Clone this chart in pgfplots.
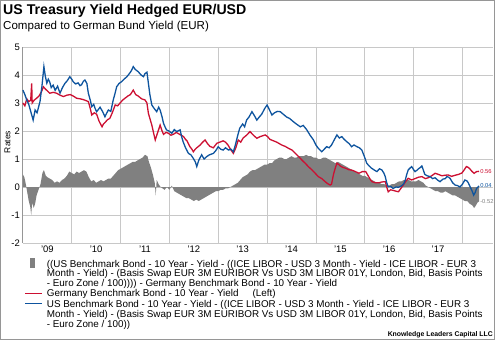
\documentclass[border=0pt]{standalone}
\usepackage{pgfplots}
\usepackage{pgfplotstable}
\pgfplotsset{compat=1.18}
\usepackage{fontspec}
\setmainfont{Liberation Sans}
\definecolor{cred}{RGB}{204,16,50}
\definecolor{cblue}{RGB}{14,84,158}
\definecolor{cgray}{RGB}{128,128,128}
\definecolor{gridgray}{RGB}{200,200,200}
\definecolor{framegray}{RGB}{150,150,150}

\pgfplotstableread{
x y
2009.00 3.46
2009.04 3.30
2009.08 3.10
2009.12 2.95
2009.16 2.70
2009.21 2.39
2009.25 2.75
2009.29 2.65
2009.35 3.05
2009.39 3.60
2009.43 4.30
2009.46 3.95
2009.49 3.71
2009.52 3.85
2009.55 3.75
2009.58 3.55
2009.62 3.64
2009.66 3.45
2009.71 3.60
2009.76 3.35
2009.81 3.55
2009.86 3.70
2009.91 3.80
2009.96 3.94
2010.00 3.85
2010.03 3.76
2010.08 3.68
2010.13 3.72
2010.17 3.62
2010.20 3.65
2010.24 3.78
2010.27 3.82
2010.31 3.70
2010.34 3.35
2010.38 3.10
2010.41 2.87
2010.45 2.95
2010.48 2.80
2010.51 2.69
2010.55 2.78
2010.58 2.85
2010.63 2.70
2010.68 2.51
2010.71 2.62
2010.75 2.75
2010.80 2.70
2010.85 3.11
2010.88 3.30
2010.92 3.58
2010.97 3.70
2011.02 3.76
2011.07 3.85
2011.13 3.94
2011.18 4.05
2011.22 4.15
2011.26 4.30
2011.30 4.20
2011.36 4.12
2011.42 4.00
2011.47 3.94
2011.50 4.05
2011.54 4.10
2011.57 3.70
2011.60 3.30
2011.64 2.93
2011.69 2.80
2011.74 2.69
2011.78 2.85
2011.81 2.75
2011.85 2.50
2011.88 2.27
2011.91 2.15
2011.94 2.04
2011.99 2.00
2012.05 1.92
2012.10 2.05
2012.15 1.98
2012.22 2.04
2012.25 1.80
2012.28 1.62
2012.33 1.40
2012.39 1.20
2012.44 1.15
2012.49 1.02
2012.53 0.90
2012.56 0.73
2012.60 0.95
2012.66 1.15
2012.71 1.00
2012.76 1.08
2012.82 1.15
2012.90 1.20
2012.95 1.30
2013.00 1.44
2013.05 1.35
2013.10 1.32
2013.15 1.40
2013.21 1.32
2013.26 1.35
2013.31 1.26
2013.35 1.50
2013.40 1.85
2013.44 2.10
2013.50 2.25
2013.54 2.15
2013.58 2.39
2013.63 2.50
2013.69 2.69
2013.74 2.55
2013.79 2.39
2013.84 2.50
2013.89 2.60
2013.95 2.80
2014.00 2.93
2014.05 2.75
2014.10 2.57
2014.15 2.65
2014.21 2.70
2014.27 2.69
2014.33 2.60
2014.40 2.50
2014.46 2.45
2014.54 2.33
2014.60 2.25
2014.68 2.15
2014.74 2.20
2014.81 2.05
2014.88 1.85
2014.95 1.68
2015.00 1.50
2015.05 1.38
2015.12 1.26
2015.17 1.35
2015.22 1.44
2015.27 1.40
2015.32 1.50
2015.38 1.70
2015.43 1.86
2015.48 1.75
2015.53 1.80
2015.58 1.70
2015.63 1.62
2015.68 1.55
2015.73 1.44
2015.78 1.50
2015.84 1.44
2015.89 1.40
2015.94 1.32
2015.99 1.10
2016.04 0.85
2016.09 0.75
2016.14 0.67
2016.20 0.60
2016.25 0.55
2016.30 0.65
2016.35 0.61
2016.39 0.50
2016.42 0.37
2016.45 0.15
2016.48 0.01
2016.53 0.02
2016.58 -0.05
2016.64 0.00
2016.69 -0.01
2016.76 0.05
2016.80 0.12
2016.83 0.25
2016.86 0.45
2016.89 0.61
2016.93 0.68
2016.96 0.73
2017.00 0.62
2017.03 0.55
2017.07 0.60
2017.10 0.65
2017.14 0.70
2017.17 0.75
2017.20 0.60
2017.23 0.45
2017.28 0.40
2017.34 0.37
2017.39 0.30
2017.44 0.33
2017.49 0.25
2017.54 0.19
2017.60 0.28
2017.65 0.30
2017.68 0.37
2017.72 0.35
2017.75 0.30
2017.80 0.15
2017.85 0.07
2017.90 0.05
2017.95 0.00
2018.00 0.10
2018.05 0.25
2018.09 0.22
2018.12 0.15
2018.16 0.00
2018.20 -0.15
2018.23 -0.29
2018.26 -0.20
2018.29 -0.05
2018.32 0.00
2018.34 0.04
}\bluedata

\pgfplotstableread{
x y
2009.00 3.00
2009.04 2.90
2009.08 3.15
2009.12 3.05
2009.16 3.10
2009.18 3.70
2009.19 3.00
2009.23 3.10
2009.28 3.17
2009.33 3.25
2009.38 3.40
2009.42 3.58
2009.46 3.50
2009.49 3.45
2009.55 3.35
2009.62 3.38
2009.69 3.35
2009.76 3.28
2009.83 3.23
2009.90 3.28
2009.97 3.30
2010.03 3.25
2010.10 3.17
2010.17 3.15
2010.24 3.12
2010.30 3.08
2010.34 3.05
2010.38 2.80
2010.41 2.57
2010.46 2.65
2010.51 2.60
2010.56 2.35
2010.62 2.15
2010.65 2.25
2010.68 2.30
2010.73 2.40
2010.78 2.45
2010.83 2.65
2010.89 2.93
2010.94 2.90
2010.99 3.00
2011.04 3.10
2011.09 3.17
2011.15 3.25
2011.20 3.30
2011.26 3.46
2011.31 3.30
2011.36 3.25
2011.43 3.15
2011.50 3.11
2011.54 3.00
2011.57 2.63
2011.60 2.45
2011.64 2.21
2011.68 1.90
2011.71 1.68
2011.76 1.95
2011.81 2.21
2011.85 2.00
2011.88 1.88
2011.93 1.95
2011.98 1.92
2012.03 1.85
2012.08 1.88
2012.14 1.95
2012.19 1.90
2012.24 1.85
2012.29 1.80
2012.33 1.70
2012.36 1.65
2012.42 1.44
2012.46 1.35
2012.49 1.26
2012.53 1.35
2012.56 1.40
2012.63 1.50
2012.68 1.60
2012.73 1.68
2012.78 1.55
2012.83 1.45
2012.90 1.40
2012.97 1.56
2013.03 1.60
2013.10 1.65
2013.15 1.60
2013.20 1.50
2013.25 1.35
2013.31 1.20
2013.36 1.40
2013.41 1.68
2013.46 1.60
2013.51 1.75
2013.58 1.85
2013.65 1.98
2013.72 1.85
2013.79 1.74
2013.86 1.80
2013.96 1.86
2014.01 1.80
2014.06 1.70
2014.13 1.65
2014.20 1.60
2014.24 1.56
2014.30 1.50
2014.37 1.45
2014.44 1.38
2014.51 1.32
2014.58 1.20
2014.65 1.08
2014.72 0.95
2014.78 0.85
2014.85 0.72
2014.92 0.61
2014.98 0.50
2015.05 0.37
2015.12 0.30
2015.19 0.19
2015.24 0.12
2015.29 0.07
2015.32 0.10
2015.36 0.45
2015.40 0.70
2015.43 0.85
2015.47 0.80
2015.50 0.75
2015.55 0.70
2015.61 0.67
2015.67 0.62
2015.74 0.60
2015.81 0.55
2015.88 0.49
2015.95 0.55
2016.02 0.55
2016.07 0.40
2016.12 0.25
2016.15 0.19
2016.22 0.15
2016.29 0.15
2016.35 0.18
2016.42 0.19
2016.45 0.00
2016.48 -0.17
2016.53 -0.10
2016.58 -0.12
2016.64 -0.15
2016.69 -0.17
2016.74 -0.05
2016.79 0.07
2016.84 0.20
2016.89 0.31
2016.96 0.25
2017.03 0.30
2017.10 0.35
2017.17 0.37
2017.24 0.30
2017.30 0.33
2017.37 0.40
2017.44 0.49
2017.51 0.45
2017.58 0.40
2017.64 0.42
2017.71 0.43
2017.78 0.38
2017.85 0.42
2017.92 0.45
2017.99 0.50
2018.04 0.62
2018.08 0.73
2018.12 0.70
2018.15 0.65
2018.20 0.55
2018.24 0.49
2018.29 0.55
2018.34 0.56
}\reddata

\pgfplotstableread{
x y
2009.00 0.45
2009.03 0.35
2009.06 0.10
2009.09 -0.20
2009.12 -0.50
2009.15 -0.70
2009.17 -1.00
2009.19 -0.55
2009.22 -0.75
2009.25 -0.60
2009.28 -0.30
2009.32 -0.10
2009.36 0.10
2009.40 0.50
2009.43 0.60
2009.47 0.40
2009.50 0.35
2009.55 0.30
2009.60 0.25
2009.65 0.15
2009.70 0.20
2009.75 0.15
2009.80 0.25
2009.85 0.30
2009.90 0.40
2009.95 0.55
2010.00 0.50
2010.05 0.45
2010.10 0.55
2010.15 0.50
2010.20 0.55
2010.25 0.60
2010.30 0.55
2010.35 0.35
2010.40 0.20
2010.45 0.25
2010.50 0.15
2010.55 0.20
2010.60 0.25
2010.65 0.20
2010.70 0.25
2010.75 0.30
2010.80 0.30
2010.85 0.40
2010.90 0.50
2010.95 0.60
2011.00 0.65
2011.05 0.70
2011.10 0.75
2011.15 0.80
2011.20 0.85
2011.25 0.90
2011.30 0.90
2011.35 0.95
2011.40 1.00
2011.45 1.05
2011.50 1.15
2011.55 1.10
2011.58 0.90
2011.62 0.70
2011.66 0.45
2011.70 0.15
2011.72 -0.30
2011.74 0.25
2011.78 0.10
2011.82 0.00
2011.86 -0.05
2011.90 -0.10
2011.95 0.00
2012.00 -0.10
2012.05 0.05
2012.10 -0.15
2012.15 -0.20
2012.20 -0.25
2012.25 -0.30
2012.30 -0.35
2012.35 -0.40
2012.40 -0.40
2012.45 -0.45
2012.50 -0.50
2012.55 -0.45
2012.60 -0.50
2012.65 -0.45
2012.70 -0.40
2012.75 -0.35
2012.80 -0.30
2012.85 -0.25
2012.90 -0.20
2012.95 -0.15
2013.00 -0.15
2013.05 -0.10
2013.10 -0.10
2013.15 -0.05
2013.20 -0.05
2013.25 0.00
2013.30 0.05
2013.35 0.10
2013.40 0.15
2013.45 0.25
2013.50 0.35
2013.55 0.40
2013.60 0.45
2013.65 0.55
2013.70 0.60
2013.75 0.60
2013.80 0.65
2013.85 0.70
2013.90 0.75
2013.95 0.80
2014.00 0.80
2014.05 0.85
2014.10 0.85
2014.15 0.95
2014.20 1.00
2014.25 1.05
2014.30 1.05
2014.35 1.00
2014.40 1.00
2014.45 1.05
2014.50 1.10
2014.55 1.05
2014.60 1.05
2014.65 1.10
2014.70 1.10
2014.75 1.10
2014.80 1.15
2014.85 1.10
2014.90 1.10
2014.95 1.05
2015.00 1.05
2015.05 1.00
2015.10 1.00
2015.15 1.05
2015.20 1.05
2015.25 1.00
2015.30 0.95
2015.35 0.90
2015.40 0.85
2015.45 0.90
2015.50 0.85
2015.55 0.80
2015.60 0.75
2015.65 0.70
2015.70 0.65
2015.75 0.60
2015.80 0.55
2015.85 0.50
2015.90 0.45
2015.95 0.40
2016.00 0.40
2016.05 0.35
2016.10 0.30
2016.15 0.25
2016.20 0.20
2016.25 0.15
2016.30 0.15
2016.35 0.10
2016.40 0.10
2016.45 0.05
2016.50 0.05
2016.55 0.10
2016.60 0.10
2016.65 0.15
2016.70 0.20
2016.75 0.20
2016.80 0.25
2016.85 0.25
2016.90 0.25
2016.95 0.20
2017.00 0.20
2017.05 0.20
2017.10 0.25
2017.15 0.20
2017.20 0.15
2017.25 0.05
2017.30 0.00
2017.35 -0.05
2017.40 -0.10
2017.45 -0.15
2017.50 -0.15
2017.55 -0.20
2017.60 -0.20
2017.65 -0.15
2017.70 -0.20
2017.75 -0.25
2017.80 -0.30
2017.85 -0.30
2017.90 -0.35
2017.95 -0.40
2018.00 -0.45
2018.05 -0.50
2018.10 -0.50
2018.15 -0.60
2018.20 -0.65
2018.24 -0.75
2018.28 -0.65
2018.31 -0.55
2018.34 -0.52
}\graydata

\begin{document}
\begin{tikzpicture}
\draw[framegray, line width=1.4bp] (0.7bp,0.7bp) rectangle (494.3bp,339.3bp);
\node[anchor=base west, font=\bfseries\fontsize{14.2}{16}\selectfont, inner sep=0] at (3bp,325bp) {US Treasury Yield Hedged EUR/USD};
\node[anchor=base west, font=\fontsize{11.6}{13}\selectfont, inner sep=0] at (3bp,310.7bp) {Compared to German Bund Yield (EUR)};
\node[rotate=90, font=\fontsize{8.5}{10}\selectfont, inner sep=0] at (7.5bp,198bp) {Rates};

\begin{axis}[
  at={(22.9bp,97bp)}, anchor=south west, scale only axis,
  width=469.8bp, height=196bp,
  xmin=2009, xmax=2018.62, ymin=-2, ymax=5,
  clip=false,
  xtick={2009.5,2010.5,2011.5,2012.5,2013.5,2014.5,2015.5,2016.5,2017.5},
  xticklabels={{'09},{'10},{'11},{'12},{'13},{'14},{'15},{'16},{'17}},
  minor xtick={2010,2011,2012,2013,2014,2015,2016,2017,2018},
  xminorgrids=true, xmajorgrids=false, ymajorgrids=true,
  ytick={-2,-1,0,1,2,3,4,5},
  yticklabels={-2,-1,0,1,2,3,4,5},
  major tick length=0pt, minor tick length=0pt,
  grid style={draw=gridgray, line width=0.8bp},
  minor grid style={draw=gridgray, line width=0.8bp},
  separate axis lines,
  axis x line*=bottom, axis y line*=left,
  axis line style={draw=gridgray, line width=0.8bp},
  y axis line style={draw=framegray, line width=1bp},
  tick label style={font=\fontsize{9.5}{11}\selectfont},
  yticklabel style={xshift=0.5bp},
  xticklabel style={yshift=1bp},
]
\addplot[fill=cgray, draw=none] table[x=x,y=y] {\graydata} \closedcycle;
\addplot[cred, line width=1.3bp] table[x=x,y=y] {\reddata};
\addplot[cblue, line width=1.3bp] table[x=x,y=y] {\bluedata};
\node[anchor=west, text=cred, font=\fontsize{5.8}{7}\selectfont, inner sep=0.6bp] at (axis cs:2018.35,0.56) {0.56};
\node[anchor=west, text=cblue, font=\fontsize{5.8}{7}\selectfont, inner sep=0.6bp] at (axis cs:2018.35,0.04) {0.04};
\node[anchor=west, text=cgray, font=\fontsize{5.8}{7}\selectfont, inner sep=0.6bp] at (axis cs:2018.35,-0.52) {-0.52};
\end{axis}

% legend
\fill[cgray] (30bp,72bp) rectangle (35bp,82bp);
\draw[cred, line width=1.5bp] (25bp,46.7bp) -- (42bp,46.7bp);
\draw[cblue, line width=1.5bp] (25bp,36.3bp) -- (42bp,36.3bp);
\begin{scope}[every node/.style={anchor=base west, inner sep=0, font=\fontsize{9.9}{10}\selectfont}]
\node at (46.7bp,72.3bp) {((US Benchmark Bond - 10 Year - Yield - ((ICE LIBOR - USD 3 Month - Yield - ICE LIBOR - EUR 3};
\node at (46.7bp,63.2bp) {Month - Yield) - (Basis Swap EUR 3M EURIBOR Vs USD 3M LIBOR 01Y, London, Bid, Basis Points};
\node at (46.7bp,53.9bp) {- Euro Zone / 100)))) - Germany Benchmark Bond - 10 Year - Yield};
\node at (46.7bp,43.3bp) {Germany Benchmark Bond - 10 Year - Yield\hspace{14bp}(Left)};
\node at (46.7bp,32.6bp) {US Benchmark Bond - 10 Year - Yield - ((ICE LIBOR - USD 3 Month - Yield - ICE LIBOR - EUR 3};
\node at (46.7bp,22.3bp) {Month - Yield) - (Basis Swap EUR 3M EURIBOR Vs USD 3M LIBOR 01Y, London, Bid, Basis Points};
\node at (46.7bp,12.3bp) {- Euro Zone / 100))};
\end{scope}
\node[anchor=base east, inner sep=0, font=\bfseries\fontsize{6.9}{8}\selectfont] at (493bp,3.8bp) {Knowledge Leaders Capital LLC};
\end{tikzpicture}
\end{document}
